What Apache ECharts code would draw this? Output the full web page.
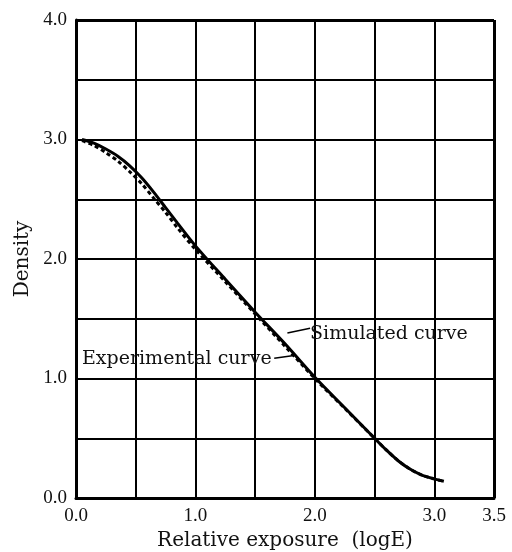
<!DOCTYPE html>
<html><head><meta charset="utf-8">
<script src="https://cdn.jsdelivr.net/npm/echarts@6/dist/echarts.min.js"></script>
<style>html,body{margin:0;padding:0;background:#fff}#c{width:512px;height:552px}</style>
</head><body><div id="c"></div>
<script>
var simX = [0.05, 0.15, 0.25, 0.35, 0.45, 0.55, 0.65, 0.75, 0.85, 1.0, 1.25, 1.5, 1.75, 2.0, 2.25, 2.5, 2.6, 2.7, 2.8, 2.9, 3.0, 3.08];
var simY = [3.00, 2.97, 2.92, 2.86, 2.78, 2.68, 2.56, 2.43, 2.30, 2.11, 1.83, 1.555, 1.29, 1.01, 0.755, 0.50, 0.40, 0.31, 0.24, 0.19, 0.16, 0.14];
var expX = [0.05, 0.15, 0.25, 0.35, 0.45, 0.55, 0.65, 0.75, 0.85, 1.0, 1.25, 1.5, 1.75, 2.0, 2.25, 2.5, 2.6, 2.7, 2.8, 2.9, 3.0, 3.08];
var expY = [2.99, 2.95, 2.89, 2.82, 2.73, 2.63, 2.51, 2.39, 2.26, 2.08, 1.81, 1.54, 1.27, 1.00, 0.75, 0.50, 0.40, 0.31, 0.24, 0.19, 0.16, 0.14];
var xTickLabels = ['0.0', '1.0', '2.0', '3.0', '3.5'];
var yTickLabels = ['0.0', '1.0', '2.0', '3.0', '4.0'];
var simLabel = 'Simulated curve';
var expLabel = 'Experimental curve';

function pairs(xs, ys) { return xs.map(function (x, i) { return [x, ys[i]]; }); }
var FONT = 'Liberation Serif';
var TFONT = 'DejaVu Serif';
var chart = echarts.init(document.getElementById('c'));
chart.setOption({
  animation: false,
  backgroundColor: '#fff',
  grid: { left: 76, right: 18, top: 20, bottom: 54, containLabel: false, outerBoundsMode: 'none' },
  xAxis: {
    type: 'value', min: 0, max: 3.5, interval: 0.5,
    name: 'Relative exposure  (logE)', nameLocation: 'middle', nameGap: 32,
    nameTextStyle: { fontFamily: TFONT, fontSize: 20, color: '#111' },
    axisLine: { show: true, onZero: false, lineStyle: { color: '#000', width: 3 } },
    axisTick: { show: false },
    splitLine: { show: true, lineStyle: { color: '#000', width: 2 } },
    axisLabel: {
      fontFamily: FONT, fontSize: 19, color: '#111', margin: 9, showMaxLabel: true,
      formatter: function (v) {
        var s = v.toFixed(1);
        return xTickLabels.indexOf(s) >= 0 ? s : '';
      }
    }
  },
  yAxis: {
    type: 'value', min: 0, max: 4, interval: 0.5,
    name: 'Density', nameLocation: 'middle', nameGap: 36,
    nameTextStyle: { fontFamily: TFONT, fontSize: 20, color: '#111' },
    axisLine: { show: true, onZero: false, lineStyle: { color: '#000', width: 3 } },
    axisTick: { show: false },
    splitLine: { show: true, lineStyle: { color: '#000', width: 2 } },
    axisLabel: {
      fontFamily: FONT, fontSize: 19, color: '#111', margin: 9,
      formatter: function (v) {
        var s = v.toFixed(1);
        return yTickLabels.indexOf(s) >= 0 ? s : '';
      }
    }
  },
  series: [
    {
      type: 'line', name: 'frame', data: [], silent: true,
      markLine: {
        silent: true, symbol: 'none', label: { show: false },
        lineStyle: { color: '#000', width: 3, type: 'solid' },
        data: [
          [{ coord: [3.5, 0] }, { coord: [3.5, 4] }],
          [{ coord: [0, 4] }, { coord: [3.5, 4] }]
        ]
      }
    },
    {
      type: 'line', name: 'Simulated', smooth: 0.3, showSymbol: false,
      data: pairs(simX, simY),
      lineStyle: { color: '#000', width: 3 },
      markLine: {
        silent: true, symbol: ['none', 'arrow'], symbolSize: [0, 9],
        lineStyle: { color: '#000', width: 1.5, type: 'solid' },
        label: { show: false },
        data: [[{ coord: [1.96, 1.42] }, { coord: [1.77, 1.38] }]]
      },
      markPoint: {
        symbol: 'circle', symbolSize: 0,
        label: { show: true, position: 'right', distance: 0, formatter: simLabel,
          fontFamily: TFONT, fontSize: 19, color: '#111' },
        data: [{ coord: [1.96, 1.37] }]
      }
    },
    {
      type: 'line', name: 'Experimental', smooth: 0.3, showSymbol: false,
      data: pairs(expX, expY),
      lineStyle: { color: '#000', width: 3, type: [4, 3] },
      markLine: {
        silent: true, symbol: ['none', 'arrow'], symbolSize: [0, 9],
        lineStyle: { color: '#000', width: 1.5, type: 'solid' },
        label: { show: false },
        data: [[{ coord: [1.66, 1.17] }, { coord: [1.81, 1.19] }]]
      },
      markPoint: {
        symbol: 'circle', symbolSize: 0,
        label: { show: true, position: 'right', distance: 0, formatter: expLabel,
          fontFamily: TFONT, fontSize: 19, color: '#111' },
        data: [{ coord: [0.05, 1.16] }]
      }
    }
  ]
});
</script></body></html>
